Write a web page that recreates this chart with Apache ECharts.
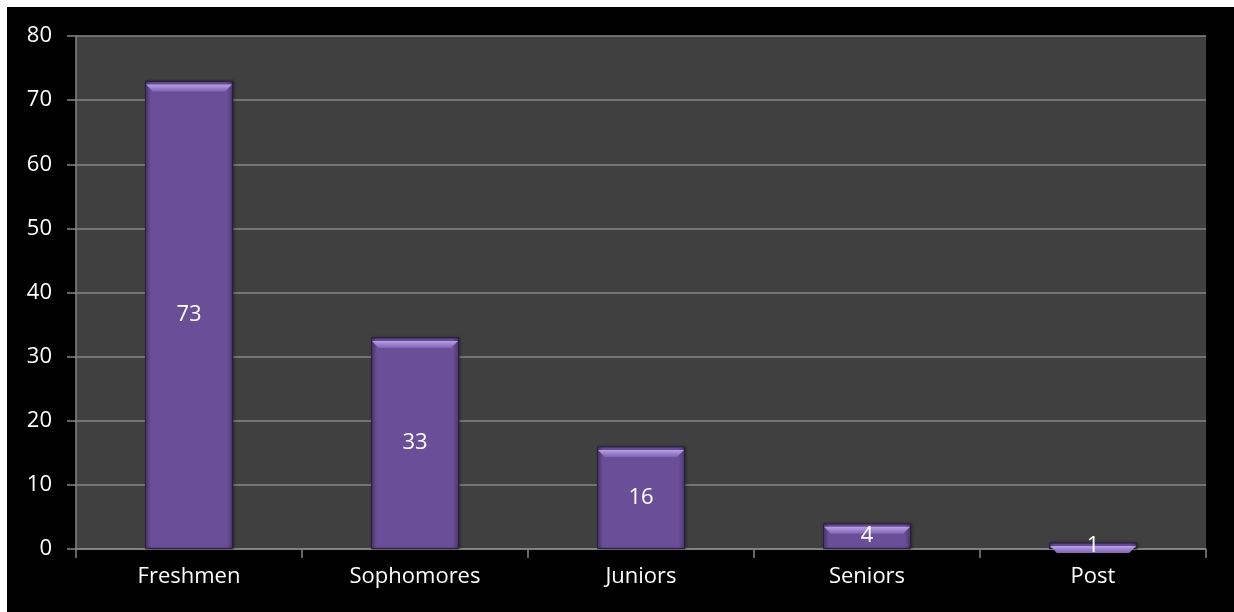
<!DOCTYPE html>
<html>
<head>
<meta charset="utf-8">
<script src="https://cdn.jsdelivr.net/npm/echarts@6/dist/echarts.min.js"></script>
<style>
html,body{margin:0;padding:0;background:#fff;width:1234px;height:612px;overflow:hidden;}
#c{position:absolute;left:7px;top:7px;width:1227px;height:605px;background:#000;}
</style>
</head>
<body>
<div id="c"></div>
<script>
const categories = ['Freshmen', 'Sophomores', 'Juniors', 'Seniors', 'Post'];
const values = [73, 33, 16, 4, 1];

const chart = echarts.init(document.getElementById('c'));
const FONT = '"Open Sans", "Liberation Sans", sans-serif';
const BW = 88;
chart.setOption({
  backgroundColor: '#000',
  animation: false,
  grid: {
    left: 69, top: 29, right: 28, bottom: 63,
    show: true, backgroundColor: '#404040', borderWidth: 0
  },
  xAxis: {
    type: 'category',
    data: categories,
    axisLine: { lineStyle: { color: '#868686', width: 1.5 } },
    axisTick: { show: true, length: 9, lineStyle: { color: '#868686', width: 1.5 } },
    axisLabel: { color: '#fff', fontSize: 22, fontFamily: FONT, margin: 17 }
  },
  yAxis: {
    type: 'value',
    min: 0, max: 80, interval: 10,
    axisLine: { show: true, lineStyle: { color: '#868686', width: 1.5 } },
    axisTick: { show: true, length: 9, lineStyle: { color: '#868686', width: 1.5 } },
    axisLabel: { color: '#fff', fontSize: 22, fontFamily: FONT, margin: 24 },
    splitLine: { show: true, lineStyle: { color: '#868686', width: 1.5 } }
  },
  series: [{
    type: 'bar',
    data: values,
    barWidth: BW,
    z: 2,
    itemStyle: {
      color: new echarts.graphic.LinearGradient(0, 0, 1, 0, [
        { offset: 0, color: '#4e3a72' },
        { offset: 0.07, color: '#6a4f98' },
        { offset: 0.93, color: '#6a4f98' },
        { offset: 1, color: '#4a366c' }
      ]),
      borderColor: '#2a1d42',
      borderWidth: 1,
      shadowColor: 'rgba(0,0,0,0.4)',
      shadowBlur: 3,
      shadowOffsetX: 1
    }
  }, {
    type: 'pictorialBar',
    data: values,
    symbol: 'path://M0,0 L100,0 L92,8 L8,8 Z',
    symbolPosition: 'end',
    symbolSize: [BW - 2, 7],
    symbolOffset: [0, '50%'],
    z: 3,
    silent: true,
    itemStyle: {
      color: new echarts.graphic.LinearGradient(0, 0, 0, 1, [
        { offset: 0, color: '#b8a0e4' },
        { offset: 1, color: '#8064b4' }
      ])
    },
    label: { show: false }
  }, {
    type: 'bar',
    data: values,
    barWidth: BW,
    barGap: '-100%',
    z: 4,
    silent: true,
    itemStyle: { color: 'rgba(0,0,0,0)' },
    label: {
      show: true,
      position: 'inside',
      color: '#fff',
      fontSize: 22,
      fontFamily: FONT
    }
  }]
});
</script>
</body>
</html>
